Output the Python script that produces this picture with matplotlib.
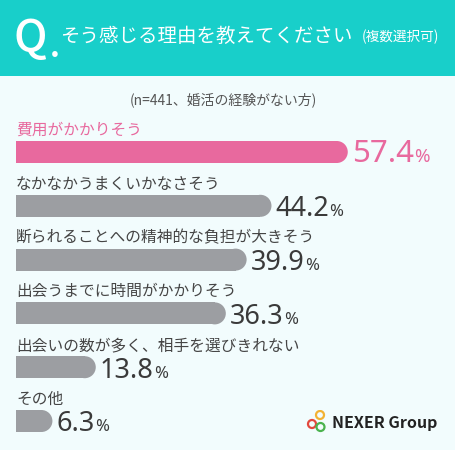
import matplotlib
matplotlib.use("Agg")
import matplotlib.pyplot as plt
from matplotlib.patches import Rectangle, Circle

plt.rcParams['font.family'] = ['Noto Sans CJK JP', 'DejaVu Sans']

# ---- data ----
categories = [
    "費用がかかりそう",
    "なかなかうまくいかなさそう",
    "断られることへの精神的な負担が大きそう",
    "出会うまでに時間がかかりそう",
    "出会いの数が多く、相手を選びきれない",
    "その他",
]
values = [57.4, 44.2, 39.9, 36.3, 13.8, 6.3]
title = "そう感じる理由を教えてください"
title_note = "(複数選択可)"
subtitle = "(n=441、婚活の経験がない方)"
brand = "NEXER Group"

# ---- style ----
W, H = 456, 450
BG = "#f2fcfd"
TEAL = "#18cfca"
PINK = "#e8699e"
GRAY = "#9c9ea2"
DARK = "#3a3a3a"
LABEL = "#454545"
NUMFONT = ['Noto Sans', 'DejaVu Sans']

fig = plt.figure(figsize=(W / 100, H / 100), dpi=100, facecolor=BG)

def fx(px):
    return px / W

def fy(py):
    return 1 - py / H

# header band
fig.patches.append(Rectangle((0, fy(76)), 1, 76 / H, transform=fig.transFigure,
                             facecolor=TEAL, edgecolor="none", zorder=0))
fig.text(fx(14), fy(40), "Q", color="white", fontsize=32, fontweight="medium",
         va="center", ha="left")
fig.text(fx(50), fy(57), ".", color="white", fontsize=22, fontweight="bold",
         va="baseline", ha="left")
fig.text(fx(60), fy(36), title, color="white", fontsize=14, va="center", ha="left")
fig.text(fx(439), fy(37), title_note, color="white", fontsize=9.8, va="center", ha="right")

fig.text(fx(223), fy(100), subtitle, color="#555555", fontsize=10, va="center", ha="center")

# ---- bars ----
px_per_pct = 5.78
row_px = 53.8
first_center = 152
bar_px = 22
ax = fig.add_axes([fx(16), 0, fx(440), 1])
ax.set_facecolor("none")
ax.set_xlim(0, 440 / px_per_pct)
ax.set_ylim((H - first_center) / row_px, -first_center / row_px)
ax.axis("off")

bar_h = bar_px / row_px
cap = (bar_px / 2) / px_per_pct
idx = list(range(len(values)))
colors = [PINK] + [GRAY] * (len(values) - 1)
txt_colors = [PINK] + [DARK] * (len(values) - 1)
lab_colors = [PINK] + [LABEL] * (len(values) - 1)
num_sizes = [22.5] + [19.5] * (len(values) - 1)
pct_sizes = [13.5] + [12] * (len(values) - 1)

ax.barh(idx, [v - cap for v in values], height=bar_h, left=0, color=colors,
        edgecolor="none")
ax.scatter([v - cap for v in values], idx, s=(bar_px * 0.72) ** 2, c=colors,
           marker="o", linewidths=0, zorder=3)

num_texts = []
for i, (cat, v) in enumerate(zip(categories, values)):
    ax.text(0, i - 21.5 / row_px, cat, color=lab_colors[i], fontsize=11.3,
            va="center", ha="left")
    t = ax.text(v + 0.7, i + 10.5 / row_px, f"{v:.1f}", color=txt_colors[i],
                fontsize=num_sizes[i], family=NUMFONT, va="baseline", ha="left")
    num_texts.append(t)

fig.canvas.draw()
renderer = fig.canvas.get_renderer()
inv = ax.transData.inverted()
for i, t in enumerate(num_texts):
    bb = t.get_window_extent(renderer)
    x_end = inv.transform((bb.x1, bb.y0))[0]
    ax.text(x_end + 0.05, i + 10.5 / row_px, "%", color=txt_colors[i],
            fontsize=pct_sizes[i], family=NUMFONT, va="baseline", ha="left")

# ---- logo ----
lax = fig.add_axes([fx(300), fy(440), fx(30), 30 / H])
lax.set_xlim(300, 330)
lax.set_ylim(440, 410)
lax.set_aspect("equal")
lax.axis("off")
for (cx, cy, col) in [(320, 415, "#f2b233"), (312, 424, "#e2483d"),
                      (320.5, 427, "#4bb34e")]:
    lax.add_patch(Circle((cx, cy), 4.0, fill=False, edgecolor=col, linewidth=1.6))
fig.text(fx(332), fy(423), brand, color="#222222", fontsize=11.5, fontweight="bold",
         va="center", ha="left")

fig.savefig("out.png", dpi=100, facecolor=BG)
